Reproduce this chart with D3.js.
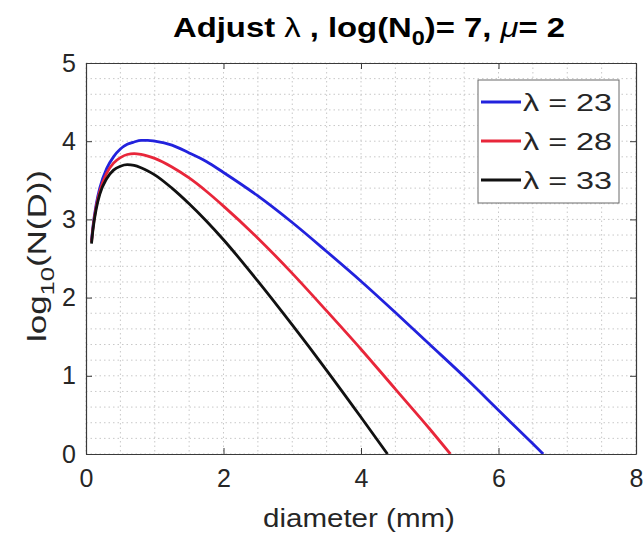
<!DOCTYPE html>
<html>
<head>
<meta charset="utf-8">
<script src="https://cdn.jsdelivr.net/npm/d3@7"></script>
<style>
  html, body { margin: 0; padding: 0; background: #fff; }
  svg { display: block; font-family: "Liberation Sans", Arial, Helvetica, sans-serif; }
</style>
</head>
<body>
<svg id="chart" width="644" height="537"></svg>
<script>
// Gamma drop size distribution, log10 N(D), for three slope parameters
const lambdas = [23, 28, 33];
const seriesColors = ["#2222dd", "#e8263a", "#111111"];

const diam23 = [0.08, 0.1, 0.15, 0.2, 0.3, 0.4, 0.5, 0.6, 0.7, 0.8, 0.9, 1.0, 1.25, 1.5, 1.75, 2.0, 2.5, 3.0, 3.5, 4.0, 4.5, 5.0, 5.5, 6.0, 6.5, 6.65];
const logN23 = [2.73, 2.90, 3.20, 3.40, 3.65, 3.80, 3.90, 3.96, 3.99, 4.01, 4.01, 4.00, 3.95, 3.85, 3.74, 3.60, 3.30, 2.96, 2.59, 2.21, 1.81, 1.40, 0.99, 0.56, 0.13, 0.0];

const diam28 = [0.08, 0.1, 0.15, 0.2, 0.3, 0.4, 0.5, 0.6, 0.7, 0.8, 0.9, 1.0, 1.25, 1.5, 1.75, 2.0, 2.5, 3.0, 3.5, 4.0, 4.5, 5.0, 5.3];
const logN28 = [2.71, 2.88, 3.17, 3.36, 3.59, 3.72, 3.79, 3.83, 3.84, 3.83, 3.81, 3.78, 3.67, 3.53, 3.36, 3.17, 2.76, 2.31, 1.83, 1.34, 0.83, 0.32, 0.0];

const diam33 = [0.08, 0.1, 0.15, 0.2, 0.3, 0.4, 0.5, 0.6, 0.7, 0.8, 0.9, 1.0, 1.25, 1.5, 1.75, 2.0, 2.5, 3.0, 3.5, 4.0, 4.385];
const logN33 = [2.69, 2.86, 3.14, 3.32, 3.52, 3.63, 3.68, 3.70, 3.69, 3.66, 3.62, 3.57, 3.40, 3.20, 2.98, 2.74, 2.21, 1.65, 1.07, 0.47, 0.0];

const xTicks = [0, 2, 4, 6, 8];
const yTicks = [0, 1, 2, 3, 4, 5];
const xMinor = d3.range(0, 8.001, 0.5);
const yMinor = d3.range(0, 5.001, 0.2);

const series = [
  { lambda: lambdas[0], xs: diam23, ys: logN23, color: seriesColors[0] },
  { lambda: lambdas[1], xs: diam28, ys: logN28, color: seriesColors[1] },
  { lambda: lambdas[2], xs: diam33, ys: logN33, color: seriesColors[2] }
];

const svg = d3.select("#chart");
const plotLeft = 86, plotRight = 636, plotTop = 63, plotBottom = 454;

const x = d3.scaleLinear().domain([0, 8]).range([plotLeft, plotRight]);
const y = d3.scaleLinear().domain([0, 5]).range([plotBottom, plotTop]);

const axisColor = "#3a3a3a";
const gridColor = "#c8c8c8";
const textColor = "#262626";

// Stretch a text element horizontally (in its own frame) so it spans `width` px.
function fitWidth(sel, width) {
  const w = sel.node().getBBox().width;
  sel.attr("transform", `scale(${width / w},1)`);
}

// grid (dotted, minor and major)
const grid = svg.append("g");
grid.selectAll("line.gx").data(xMinor).join("line")
  .attr("class", "gx")
  .attr("x1", d => x(d)).attr("x2", d => x(d))
  .attr("y1", plotTop).attr("y2", plotBottom)
  .attr("stroke", gridColor).attr("stroke-width", 1)
  .attr("stroke-dasharray", "1.5,3");
grid.selectAll("line.gy").data(yMinor).join("line")
  .attr("class", "gy")
  .attr("x1", plotLeft).attr("x2", plotRight)
  .attr("y1", d => y(d)).attr("y2", d => y(d))
  .attr("stroke", gridColor).attr("stroke-width", 1)
  .attr("stroke-dasharray", "1.5,3");

// curves, clipped to the plot box
svg.append("clipPath").attr("id", "plotclip")
  .append("rect").attr("x", plotLeft).attr("y", plotTop)
  .attr("width", plotRight - plotLeft).attr("height", plotBottom - plotTop);

const line = d3.line().x(d => x(d[0])).y(d => y(d[1])).curve(d3.curveMonotoneX);
svg.append("g").attr("clip-path", "url(#plotclip)")
  .selectAll("path").data(series).join("path")
  .attr("d", s => line(s.xs.map((v, i) => [v, s.ys[i]])))
  .attr("fill", "none")
  .attr("stroke", s => s.color)
  .attr("stroke-width", 2.8)
  .attr("stroke-linejoin", "round");

// axes with inward ticks on all four sides
const tickSize = 6;
const styleAxis = g => {
  g.select(".domain").attr("stroke", axisColor).attr("stroke-width", 1.2);
  g.selectAll(".tick line").attr("stroke", axisColor).attr("stroke-width", 1);
  g.selectAll(".tick text").attr("fill", textColor)
    .style("font-size", "25px").style("font-family", "'Liberation Sans', Arial, sans-serif");
};
svg.append("g").attr("transform", `translate(0,${plotBottom})`)
  .call(d3.axisBottom(x).tickValues(xTicks).tickFormat(d3.format("d"))
    .tickSizeInner(-tickSize).tickSizeOuter(0).tickPadding(15))
  .call(styleAxis);
svg.append("g").attr("transform", `translate(0,${plotTop})`)
  .call(d3.axisTop(x).tickValues(xTicks).tickFormat("")
    .tickSizeInner(-tickSize).tickSizeOuter(0))
  .call(styleAxis);
svg.append("g").attr("transform", `translate(${plotLeft},0)`)
  .call(d3.axisLeft(y).tickValues(yTicks).tickFormat(d3.format("d"))
    .tickSizeInner(-tickSize).tickSizeOuter(0).tickPadding(10))
  .call(styleAxis);
svg.append("g").attr("transform", `translate(${plotRight},0)`)
  .call(d3.axisRight(y).tickValues(yTicks).tickFormat("")
    .tickSizeInner(-tickSize).tickSizeOuter(0))
  .call(styleAxis);

// title
const titleG = svg.append("g").attr("transform", "translate(173,37)");
const title = titleG.append("text")
  .attr("x", 0).attr("y", 0)
  .attr("font-size", 28).attr("font-weight", "bold").attr("fill", "#000");
title.append("tspan").text("Adjust ");
title.append("tspan").attr("font-weight", "normal").text("λ");
title.append("tspan").text(" , log(N");
title.append("tspan").attr("dy", 8).attr("font-size", 20).text("0");
title.append("tspan").attr("dy", -8).text(")= 7, ");
title.append("tspan").attr("font-style", "italic").attr("font-weight", "normal").text("μ");
title.append("tspan").text("= 2");
fitWidth(title, 392);

// x label
const xlabG = svg.append("g").attr("transform", "translate(263,527)");
const xlab = xlabG.append("text")
  .attr("font-size", 26).attr("fill", textColor)
  .text("diameter (mm)");
fitWidth(xlab, 192);

// y label
const ylabG = svg.append("g").attr("transform", "translate(46,342) rotate(-90)");
const ylab = ylabG.append("text")
  .attr("font-size", 26).attr("fill", textColor);
ylab.append("tspan").text("log");
ylab.append("tspan").attr("dy", 8).attr("font-size", 19).text("10");
ylab.append("tspan").attr("dy", -8).text("(N(D))");
fitWidth(ylab, 172);

// legend
const legend = svg.append("g");
legend.append("rect")
  .attr("x", 478).attr("y", 80).attr("width", 141).attr("height", 123)
  .attr("fill", "#fff").attr("stroke", "#6a6a6a").attr("stroke-width", 1);
const rowY = [102, 141, 180];
series.forEach((s, i) => {
  legend.append("line")
    .attr("x1", 481).attr("x2", 521)
    .attr("y1", rowY[i]).attr("y2", rowY[i])
    .attr("stroke", s.color).attr("stroke-width", 2.8);
  const g = legend.append("g").attr("transform", `translate(523,${rowY[i] + 9})`);
  const t = g.append("text")
    .attr("font-size", 24).attr("fill", textColor)
    .text(`λ = ${s.lambda}`);
  fitWidth(t, 89);
});
</script>
</body>
</html>
